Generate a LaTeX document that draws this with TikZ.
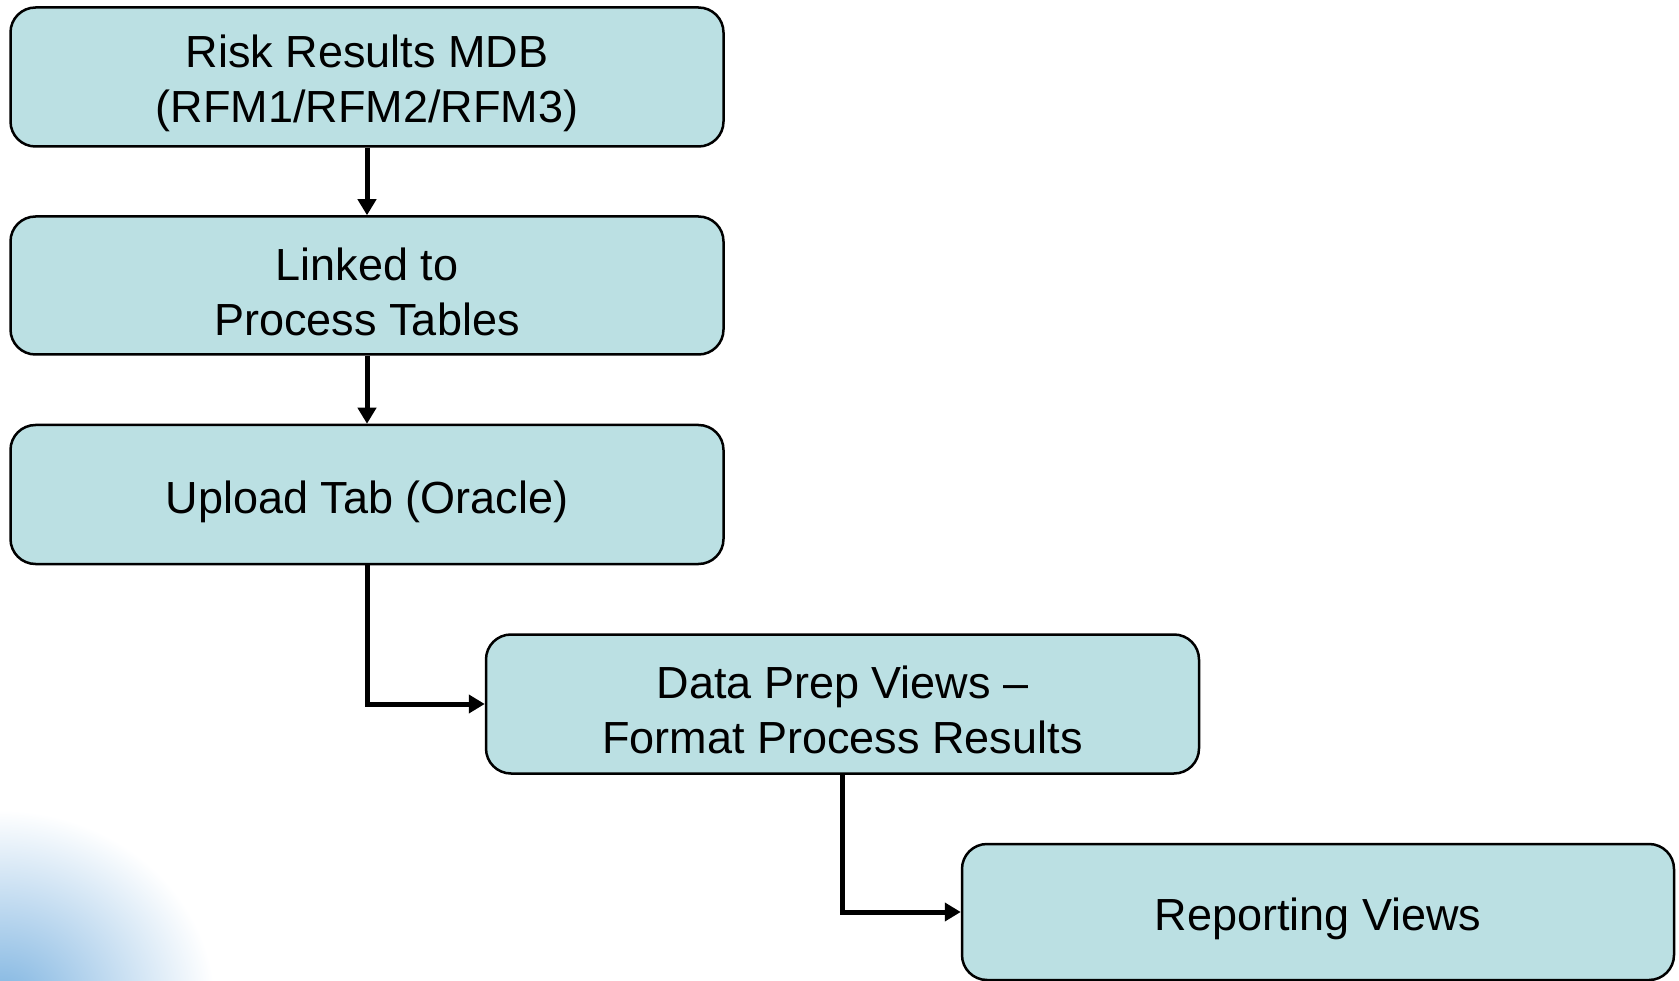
\documentclass[tikz,border=0pt]{standalone}
\usepackage{fontspec}
\setmainfont{Liberation Sans}
\usetikzlibrary{arrows.meta}
\definecolor{boxfill}{HTML}{BBE0E3}
\definecolor{cloud}{HTML}{7DB3E0}
\begin{document}
\begin{tikzpicture}[x=1pt,y=-1pt,
  procbox/.style={draw=black, line width=2.5pt, fill=boxfill, rounded corners=25pt,
    minimum width=713pt, inner sep=0pt},
  boxtext/.style={align=center, inner sep=0pt, font=\fontsize{45}{55}\selectfont},
  conn/.style={line width=5pt, -{Triangle[length=16pt,width=18pt]}}]
\useasboundingbox (0,0) rectangle (1679,981);
\begin{scope}
\clip (0,0) rectangle (1679,981);
\shade[inner color=cloud, outer color=white] (0,1005) ellipse (215pt and 195pt);
\end{scope}
\node[procbox, minimum height=139pt] (b1) at (367,77) {};
\node[procbox, minimum height=138pt] (b2) at (367,285.5) {};
\node[procbox, minimum height=139pt] (b3) at (367,494.5) {};
\node[procbox, minimum height=139pt] (b4) at (842.5,704) {};
\node[procbox, minimum height=136pt, minimum width=712pt] (b5) at (1318,912) {};
\node[boxtext] (t1) at ([yshift=-6pt]b1.center) {Risk Results MDB\\(RFM1/RFM2/RFM3)};
\node[boxtext] (t2) at ([yshift=-6pt]b2.center) {Linked to\\Process Tables};
\node[boxtext] (t3) at ([yshift=-7pt]b3.center) {Upload Tab (Oracle)};
\node[boxtext] (t4) at ([yshift=-6pt]b4.center) {Data Prep Views –\\Format Process Results};
\node[boxtext] (t5) at ([yshift=-7pt]b5.center) {Reporting Views};
\draw[conn] (b1.south) -- (b2.north);
\draw[conn] (b2.south) -- (b3.north);
\draw[conn] (b3.south) |- (b4.west);
\draw[conn] (b4.south) |- (b5.west);
\end{tikzpicture}
\end{document}
